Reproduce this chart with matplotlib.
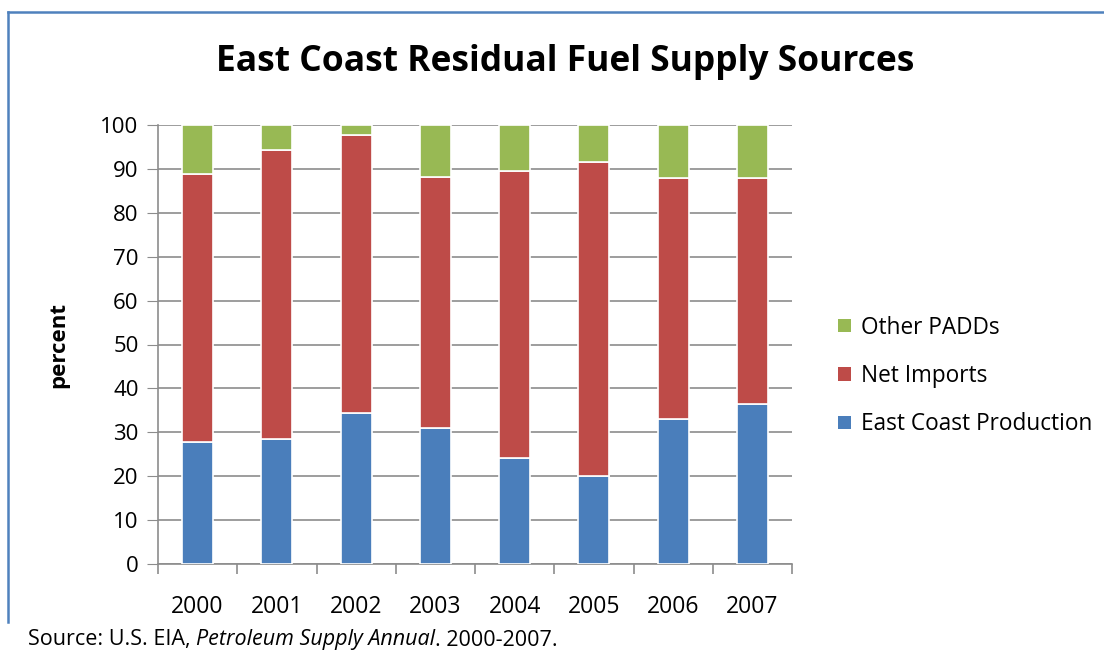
import matplotlib
matplotlib.use("Agg")
import matplotlib.pyplot as plt
from matplotlib.lines import Line2D
from matplotlib.patches import Patch
import numpy as np

years = ["2000", "2001", "2002", "2003", "2004", "2005", "2006", "2007"]
east_coast = [27.8, 28.5, 34.3, 31.0, 24.1, 20.0, 33.0, 36.4]
net_imports = [61.0, 65.8, 63.4, 57.2, 65.4, 71.6, 54.9, 51.5]
other_padds = [11.2, 5.7, 2.3, 11.8, 10.5, 8.4, 12.1, 12.1]

blue = "#4A7EBB"
red = "#BE4B48"
green = "#98B954"
grid_c = "#8C8C8C"

plt.rcParams['font.family'] = ['Open Sans', 'DejaVu Sans']

fig = plt.figure(figsize=(11.04, 6.56), dpi=100)
W, H = 1104, 656
ax = fig.add_axes([158 / W, (H - 564) / H, (792 - 158) / W, (564 - 125) / H])

x = np.arange(len(years))
bw = 0.39
ax.bar(x, east_coast, bw, color=blue, edgecolor="white", linewidth=1.2, zorder=3)
ax.bar(x, net_imports, bw, bottom=east_coast, color=red, edgecolor="white", linewidth=1.2, zorder=3)
bot2 = np.array(east_coast) + np.array(net_imports)
ax.bar(x, other_padds, bw, bottom=bot2, color=green, edgecolor="white", linewidth=1.2, zorder=3)

ax.set_xlim(-0.5, len(years) - 0.5)
ax.set_ylim(0, 100)
ax.set_yticks(np.arange(0, 101, 10))
ax.tick_params(axis='y', labelsize=16, length=8, color=grid_c, pad=6)
ax.yaxis.grid(True, color=grid_c, linewidth=1.2, zorder=0)
ax.set_axisbelow(True)

ax.set_xticks(x)
ax.set_xticklabels(years, fontsize=16.5)
ax.tick_params(axis='x', length=0, pad=22)
ax.set_xticks(np.arange(-0.5, len(years) + 0.5, 1), minor=True)
ax.tick_params(axis='x', which='minor', length=7, color=grid_c, width=1.2)

for s in ["top", "right"]:
    ax.spines[s].set_visible(False)
for s in ["left", "bottom"]:
    ax.spines[s].set_color(grid_c)
    ax.spines[s].set_linewidth(1.2)

ax.set_ylabel("percent", fontsize=16, fontweight="bold", labelpad=22)

fig.text(565 / W, 1 - 62 / H, "East Coast Residual Fuel Supply Sources",
         ha="center", va="center", fontsize=25.5, fontweight="bold")

handles = [Patch(facecolor=green), Patch(facecolor=red), Patch(facecolor=blue)]
labels = ["Other PADDs", "Net Imports", "East Coast Production"]
fig.legend(handles, labels, loc="center left", bbox_to_anchor=(818 / W, 1 - 376 / H),
           frameon=False, fontsize=16.3, handlelength=0.55, handleheight=0.55,
           labelspacing=1.08, handletextpad=0.45)

sy = 1 - 640 / H
fs = 15.5
tA = fig.text(28 / W, sy, "Source: U.S. EIA, ", fontsize=fs, va="center", ha="left")
fig.canvas.draw()
r = fig.canvas.get_renderer()
bb = tA.get_window_extent(r)
tB = fig.text(bb.x1 / W, sy, "Petroleum Supply Annual", fontsize=fs, va="center", ha="left", style="italic")
bb2 = tB.get_window_extent(r)
fig.text(bb2.x1 / W, sy, ". 2000-2007.", fontsize=fs, va="center", ha="left")

# border lines
fig.add_artist(Line2D([8 / W, 8 / W], [1 - 12 / H, 1 - 622 / H], color="#4F81BD", linewidth=1.8))
fig.add_artist(Line2D([8 / W, 1.0], [1 - 12 / H, 1 - 12 / H], color="#4F81BD", linewidth=1.8))

fig.savefig("out.png", dpi=100)
